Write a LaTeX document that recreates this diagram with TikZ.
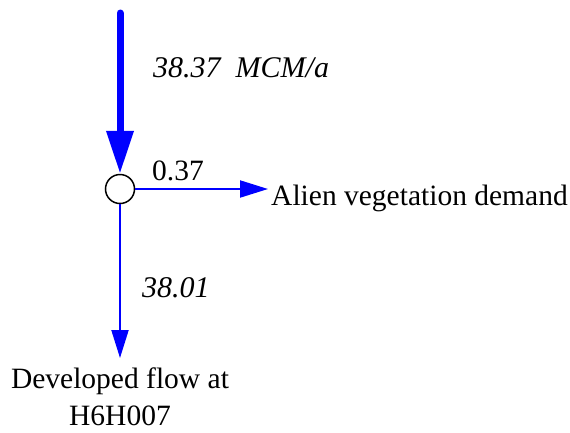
\documentclass[tikz,border=0pt]{standalone}
\usepackage{fontspec}
\setmainfont{Liberation Serif}
\usetikzlibrary{arrows.meta}
\tikzset{
    flowtxt/.style  = {font=\fontsize{29.5}{37}\selectfont, inner sep=0pt},
    mengen/.style   = {flowtxt, font=\fontsize{30}{37}\selectfont\itshape},
    knoten/.style   = {draw, circle, line width=1.5pt, minimum size=29pt, inner sep=0pt, fill=white},
    zufluss/.style  = {blue, line width=7pt, line cap=round, -{Triangle[length=43pt, width=26pt]}},
    abfluss/.style  = {blue, line width=2pt, -{Triangle[length=28pt, width=17pt]}}
}

\begin{document}
\begin{tikzpicture}[x=1pt, y=1pt]
    \useasboundingbox (0,0) rectangle (570,-432);

    % --- Knoten ---
    \coordinate (quelle) at (120,-13);
    \node[knoten] (k1) at (120,-189) {};

    % --- Ziele ---
    \node[flowtxt, anchor=base west, inner xsep=3pt] (alien) at (268,-205) {Alien vegetation demand};
    \node[flowtxt, anchor=north, align=center, inner ysep=9.5pt] (h6h) at (120,-358)
        {Developed flow at\\H6H007};

    % --- Fluesse ---
    \draw[zufluss] (quelle) -- (k1.north);
    \draw[abfluss] (k1.east) -- (k1.east -| alien.west);
    \draw[abfluss] (k1.south) -- (h6h.north);

    % --- Mengen ---
    \node[mengen, anchor=base west] (q1) at (153,-77) {38.37\ \ MCM/a};
    \node[flowtxt, anchor=base west] (q2) at (152,-180) {0.37};
    \node[mengen, anchor=base west] (q3) at (142,-297) {38.01};
\end{tikzpicture}
\end{document}
